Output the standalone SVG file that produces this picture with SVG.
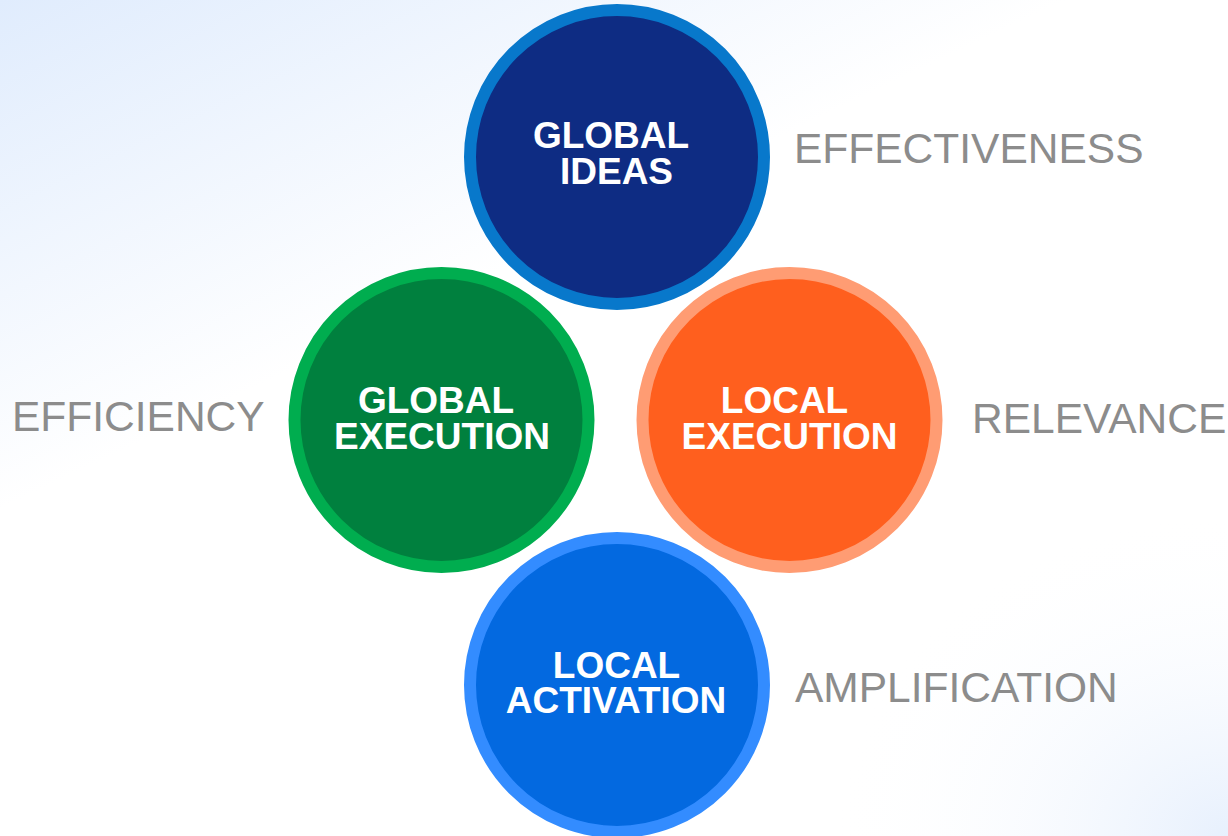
<svg xmlns="http://www.w3.org/2000/svg" width="1228" height="836" viewBox="0 0 1228 836">
  <defs>
    <linearGradient id="bgTopLeft" gradientUnits="userSpaceOnUse" x1="0" y1="0" x2="550" y2="1152">
      <stop offset="0" stop-color="#e0ecfd"/>
      <stop offset="0.36" stop-color="#ffffff"/>
      <stop offset="1" stop-color="#ffffff"/>
    </linearGradient>
    <radialGradient id="bgBottomRight" gradientUnits="userSpaceOnUse" cx="1228" cy="836" r="360" gradientTransform="translate(1228 836) scale(1.1 0.9) translate(-1228 -836)">
      <stop offset="0" stop-color="#e7f0fd" stop-opacity="1"/>
      <stop offset="1" stop-color="#ffffff" stop-opacity="0"/>
    </radialGradient>
  </defs>
  <style>
    .ring { stroke-width: 12; }
    .title { font-family: "Liberation Sans", Arial, sans-serif; font-weight: bold; font-size: 37px; fill: #ffffff; text-anchor: middle; }
    .label { font-family: "Liberation Sans", Arial, sans-serif; font-size: 42.5px; fill: #8c8c8c; }
  </style>

  <!-- background wash -->
  <rect x="0" y="0" width="1228" height="836" fill="url(#bgTopLeft)"/>
  <rect x="0" y="0" width="1228" height="836" fill="url(#bgBottomRight)"/>

  <g id="connectors"/>

  <g id="global-ideas">
    <circle class="ring" cx="617" cy="157" r="147" fill="#0e2c83" stroke="#0878cb"/>
    <text class="title" x="611" y="148">GLOBAL</text>
    <text class="title" x="616.5" y="184">IDEAS</text>
  </g>

  <g id="global-execution">
    <circle class="ring" cx="441.5" cy="420" r="147" fill="#00803e" stroke="#00ad4f"/>
    <text class="title" x="436" y="413">GLOBAL</text>
    <text class="title" x="442" y="449">EXECUTION</text>
  </g>

  <g id="local-execution">
    <circle class="ring" cx="789.5" cy="420" r="147" fill="#ff5f1e" stroke="#ff9c73"/>
    <text class="title" x="784.5" y="413">LOCAL</text>
    <text class="title" x="789.5" y="449">EXECUTION</text>
  </g>

  <g id="local-activation">
    <circle class="ring" cx="617" cy="685" r="147" fill="#0369e0" stroke="#338cff"/>
    <text class="title" x="616.5" y="678">LOCAL</text>
    <text class="title" x="616" y="713">ACTIVATION</text>
  </g>

  <g id="labels">
    <text class="label" x="794" y="163">EFFECTIVENESS</text>
    <text class="label" x="12" y="431">EFFICIENCY</text>
    <text class="label" x="972" y="433">RELEVANCE</text>
    <text class="label" x="795" y="702">AMPLIFICATION</text>
  </g>
</svg>
